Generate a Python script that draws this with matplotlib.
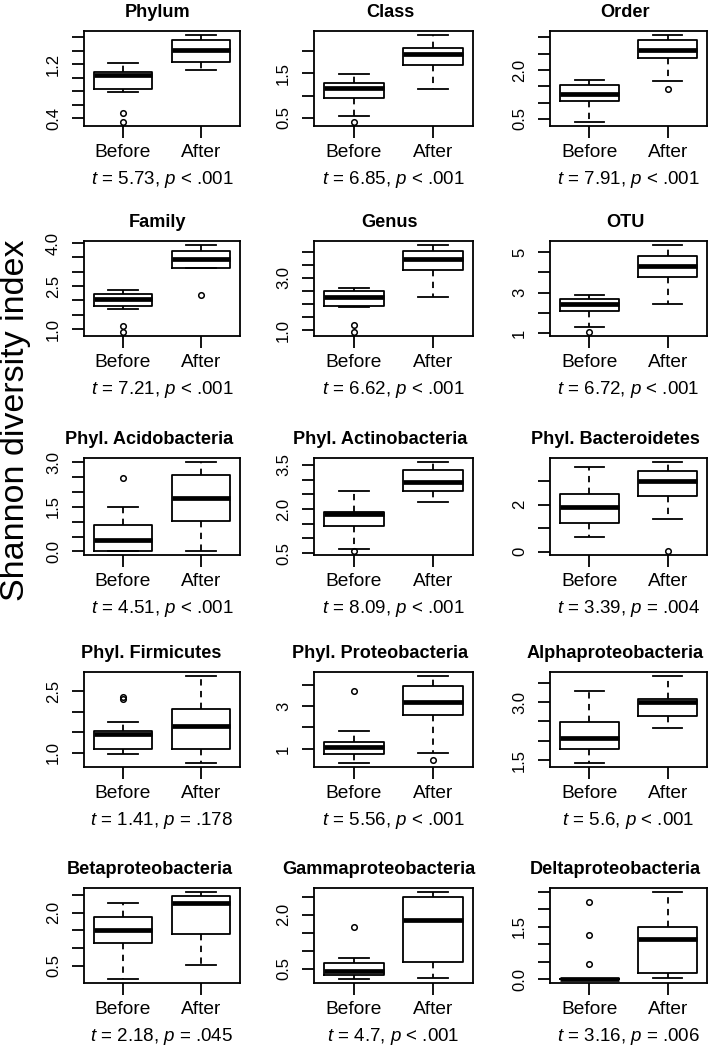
import matplotlib
matplotlib.use('Agg')
import matplotlib.pyplot as plt

plt.rcParams['font.family'] = ['Liberation Sans', 'DejaVu Sans']
plt.rcParams['mathtext.fontset'] = 'custom'
plt.rcParams['mathtext.rm'] = 'Liberation Sans'
plt.rcParams['mathtext.it'] = 'Liberation Sans:italic'

titles = ['Phylum', 'Class', 'Order',
          'Family', 'Genus', 'OTU',
          'Phyl. Acidobacteria', 'Phyl. Actinobacteria', 'Phyl. Bacteroidetes',
          'Phyl. Firmicutes', 'Phyl. Proteobacteria', 'Alphaproteobacteria',
          'Betaproteobacteria', 'Gammaproteobacteria', 'Deltaproteobacteria']

# box summaries: (whislo, q1, median, q3, whishi)
before = [(0.79, 0.84, 1.04, 1.085, 1.22),
          (0.545, 0.94, 1.18, 1.28, 1.485),
          (0.39, 1.05, 1.265, 1.53, 1.70),
          (1.70, 1.80, 2.035, 2.23, 2.37),
          (1.87, 1.94, 2.28, 2.49, 2.62),
          (1.28, 2.07, 2.43, 2.68, 2.86),
          (0.0, 0.0, 0.38, 0.90, 1.49),
          (0.625, 1.41, 1.82, 1.90, 2.595),
          (0.61, 1.22, 1.91, 2.45, 3.60),
          (0.96, 1.10, 1.455, 1.53, 1.75),
          (0.32, 0.74, 1.08, 1.32, 1.83),
          (1.41, 1.79, 2.07, 2.48, 3.28),
          (0.12, 1.15, 1.5, 1.88, 2.26),
          (0.2, 0.33, 0.45, 0.66, 0.8),
          (0.0, 0.0, 0.0, 0.0, 0.0)]
after = [(1.11, 1.24, 1.41, 1.56, 1.64),
         (1.15, 1.68, 1.93, 2.08, 2.38),
         (1.65, 2.37, 2.60, 2.92, 3.09),
         (3.13, 3.13, 3.45, 3.74, 3.95),
         (2.28, 3.29, 3.72, 4.05, 4.28),
         (2.42, 3.77, 4.31, 4.82, 5.38),
         (0.0, 1.03, 1.81, 2.58, 3.02),
         (2.22, 2.595, 2.90, 3.31, 3.61),
         (1.38, 2.36, 3.00, 3.44, 3.83),
         (0.74, 1.10, 1.66, 2.06, 2.89),
         (0.83, 2.58, 3.18, 3.91, 4.42),
         (2.34, 2.63, 3.01, 3.09, 3.69),
         (0.53, 1.41, 2.26, 2.47, 2.59),
         (0.25, 0.7, 1.85, 2.5, 2.65),
         (0.05, 0.17, 1.15, 1.5, 2.5)]
before_out = [[0.484, 0.34], [0.39], [], [1.12, 0.88], [1.19, 0.91], [1.02],
              [2.46], [0.557], [], [2.37, 2.31], [3.69], [],
              [], [1.65], [2.2, 1.25, 0.45]]
after_out = [[], [], [1.42], [2.19], [], [],
             [], [], [0.01], [], [0.49], [],
             [], [], []]

yticks = [[0.4, 0.6, 0.8, 1.0, 1.2, 1.4, 1.6],
          [0.5, 1.0, 1.5, 2.0],
          [0.5, 1.0, 1.5, 2.0, 2.5, 3.0],
          [1.0, 1.5, 2.0, 2.5, 3.0, 3.5, 4.0],
          [1.0, 1.5, 2.0, 2.5, 3.0, 3.5, 4.0],
          [1, 2, 3, 4, 5],
          [0.0, 0.5, 1.0, 1.5, 2.0, 2.5, 3.0],
          [0.5, 1.0, 1.5, 2.0, 2.5, 3.0, 3.5],
          [0, 1, 2, 3],
          [1.0, 1.5, 2.0, 2.5],
          [1, 2, 3, 4],
          [1.5, 2.0, 2.5, 3.0, 3.5],
          [0.5, 1.0, 1.5, 2.0, 2.5],
          [0.5, 1.0, 1.5, 2.0, 2.5],
          [0.0, 0.5, 1.0, 1.5, 2.0, 2.5]]
ylabels = [['0.4', '', '', '', '1.2', '', ''],
           ['0.5', '', '1.5', ''],
           ['0.5', '', '', '2.0', '', ''],
           ['1.0', '', '', '2.5', '', '', '4.0'],
           ['1.0', '', '', '', '3.0', '', ''],
           ['1', '', '3', '', '5'],
           ['0.0', '', '', '1.5', '', '', '3.0'],
           ['0.5', '', '', '2.0', '', '', '3.5'],
           ['0', '', '2', ''],
           ['1.0', '', '', '2.5'],
           ['1', '', '3', ''],
           ['1.5', '', '', '3.0', ''],
           ['0.5', '', '', '2.0', ''],
           ['0.5', '', '', '2.0', ''],
           ['0.0', '', '', '1.5', '', '']]

t_vals = ['5.73', '6.85', '7.91', '7.21', '6.62', '6.72', '4.51', '8.09', '3.39',
          '1.41', '5.56', '5.6', '2.18', '4.7', '3.16']
p_vals = ['< .001', '< .001', '< .001', '< .001', '< .001', '< .001', '< .001', '< .001', '= .004',
          '= .178', '< .001', '< .001', '= .045', '< .001', '= .006']

W, H = 709, 1047
lefts = [84, 314, 550]
widths = [156, 159, 157]
tops = [31, 241, 458, 672, 888]
heights = [95, 95, 97, 95, 95]

fig = plt.figure(figsize=(W / 100, H / 100), dpi=100)
renderer = fig.canvas.get_renderer()
lw = 1.3

for i in range(15):
    r, c = divmod(i, 3)
    ax = fig.add_axes([lefts[c] / W, 1 - (tops[r] + heights[r]) / H,
                       widths[c] / W, heights[r] / H])
    stats = []
    for s, fl in ((before[i], before_out[i]), (after[i], after_out[i])):
        stats.append(dict(whislo=s[0], q1=s[1], med=s[2], q3=s[3], whishi=s[4], fliers=fl))
    ax.bxp(stats, positions=[1, 2], widths=0.75, capwidths=0.375,
           boxprops=dict(color='black', linewidth=lw),
           medianprops=dict(color='black', linewidth=3.4, solid_capstyle='butt'),
           whiskerprops=dict(color='black', linewidth=lw, linestyle=(0, (3.5, 3))),
           capprops=dict(color='black', linewidth=lw),
           flierprops=dict(marker='o', markerfacecolor='none', markeredgecolor='black',
                           markersize=4, markeredgewidth=1.1))

    # R style limits: data range padded by 4%
    vals = list(before[i]) + list(after[i]) + before_out[i] + after_out[i]
    lo, hi = min(vals), max(vals)
    pad = (hi - lo) * 0.04
    ax.set_ylim(lo - pad, hi + pad)
    ax.set_xlim(0.5, 2.5)

    ax.set_yticks(yticks[i])
    ax.set_yticklabels(ylabels[i], rotation=90, va='center')
    ax.set_xticks([1, 2])
    ax.set_xticklabels(['Before', 'After'])
    ax.tick_params(axis='x', length=8.5, width=lw, labelsize=13.8, pad=4.5)
    ax.tick_params(axis='y', length=8.5, width=lw, labelsize=12, pad=8)
    for sp in ax.spines.values():
        sp.set_linewidth(lw)

    # titles in the original sit a little left of centre, more so for long ones
    t = ax.set_title(titles[i], fontsize=13.1, fontweight='bold', pad=10)
    tw = t.get_window_extent(renderer).width
    t.set_x(0.5 - 0.075 * tw / widths[c])

    ax.annotate('$t$ = %s, $p$ %s' % (t_vals[i], p_vals[i]),
                xy=(0.5, 0), xycoords='axes fraction',
                xytext=(0, -42), textcoords='offset points',
                ha='center', va='baseline', fontsize=13.5)

fig.text(0.022, 0.599, 'Shannon diversity index', rotation=90,
         ha='center', va='center', fontsize=24.5)

fig.savefig('out.png', dpi=100)
